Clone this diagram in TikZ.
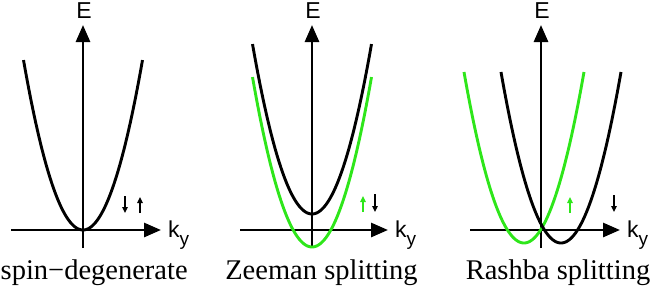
\documentclass[tikz,border=0pt]{standalone}
\usepackage{fontspec}
\setmainfont{Liberation Serif}
\setsansfont{Liberation Sans}
\usepackage{xcolor}
\usetikzlibrary{arrows.meta,positioning}
\definecolor{BandBlack}{HTML}{000000}
\definecolor{BandGreen}{HTML}{2EE61A}

\tikzset{
  axisline/.style={line width=2.8pt,-{Triangle[length=17pt,width=14pt]}},
  bandline/.style={line width=2.9pt},
  spinarrow/.style={line width=1.6pt,-{Triangle[length=6pt,width=5.5pt]}},
  axislabel/.style={font=\sffamily\fontsize{23}{23}\selectfont,inner sep=0pt},
  panellabel/.style={font=\fontsize{28.5}{28.5}\selectfont,inner sep=0pt,anchor=base}
}
\newcommand{\kylabel}{k\raisebox{-8pt}{\fontsize{19}{19}\selectfont y}}

\begin{document}
\begin{tikzpicture}[x=1pt,y=-1pt]
    \useasboundingbox (0,0) rectangle (654,289);
    % Panel 1: spin-degenerate
    \coordinate (v1b) at (83,248);  \coordinate (v1t) at (83,25);
    \coordinate (h1l) at (11,230);  \coordinate (h1r) at (161,230);
    \draw[axisline] (v1b) -- (v1t);
    \draw[axisline] (h1l) -- (h1r);
    \draw[bandline,BandBlack] plot[domain=-59.5:59.5,samples=80] ({83+\x},{230-0.048*\x*\x});
    \node[axislabel] (E1) at (84,11) {E};
    \node[axislabel,anchor=base west] (k1) at (168,237) {\kylabel};
    \coordinate (s1a) at (125,196); \coordinate (s1b) at (125,213);
    \coordinate (s1c) at (140,213); \coordinate (s1d) at (140,197);
    \draw[spinarrow] (s1a) -- (s1b);
    \draw[spinarrow] (s1c) -- (s1d);
    \node[panellabel,anchor=base west] (lab1) at (0.5,279) {spin−degenerate};
    % Panel 2: Zeeman splitting
    \coordinate (v2b) at (312,248); \coordinate (v2t) at (312,25);
    \coordinate (h2l) at (240,230); \coordinate (h2r) at (388,230);
    \draw[axisline] (v2b) -- (v2t);
    \draw[axisline] (h2l) -- (h2r);
    \draw[bandline,BandBlack] plot[domain=-59.5:59.5,samples=80] ({312+\x},{214-0.048*\x*\x});
    \draw[bandline,BandGreen] plot[domain=-59.5:59.5,samples=80] ({312+\x},{247-0.048*\x*\x});
    \node[axislabel] (E2) at (313,11) {E};
    \node[axislabel,anchor=base west] (k2) at (395,237) {\kylabel};
    \coordinate (s2a) at (363,212); \coordinate (s2b) at (363,196);
    \coordinate (s2c) at (375,194); \coordinate (s2d) at (375,212);
    \draw[spinarrow,BandGreen] (s2a) -- (s2b);
    \draw[spinarrow] (s2c) -- (s2d);
    \node[panellabel] (lab2) at (321.5,279) {Zeeman splitting};
    % Panel 3: Rashba splitting
    \coordinate (v3b) at (541,248); \coordinate (v3t) at (541,25);
    \coordinate (h3l) at (470,230); \coordinate (h3r) at (620,230);
    \draw[axisline] (v3b) -- (v3t);
    \draw[axisline] (h3l) -- (h3r);
    \draw[bandline,BandGreen] plot[domain=-60:60,samples=80] ({524+\x},{243-0.0475*\x*\x});
    \draw[bandline,BandBlack] plot[domain=-60:60,samples=80] ({561+\x},{243-0.0475*\x*\x});
    \node[axislabel] (E3) at (542,11) {E};
    \node[axislabel,anchor=base west] (k3) at (627,237) {\kylabel};
    \coordinate (s3a) at (570,213); \coordinate (s3b) at (570,197);
    \coordinate (s3c) at (614,195); \coordinate (s3d) at (614,212);
    \draw[spinarrow,BandGreen] (s3a) -- (s3b);
    \draw[spinarrow] (s3c) -- (s3d);
    \node[panellabel] (lab3) at (558,279) {Rashba splitting};
\end{tikzpicture}
\end{document}
